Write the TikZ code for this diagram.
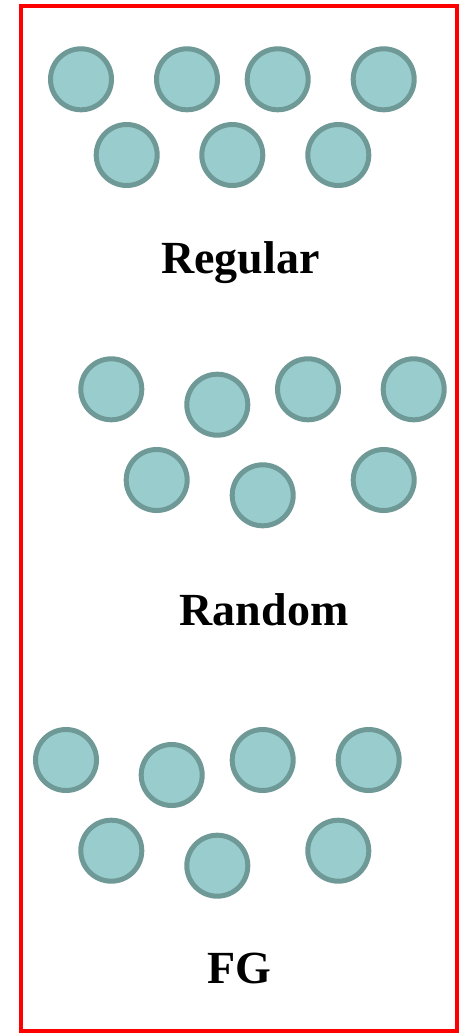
\documentclass[tikz,border=0pt]{standalone}
\usepackage{fontspec}
\setmainfont{Liberation Serif}
\definecolor{ballfill}{RGB}{153,205,205}
\definecolor{balledge}{RGB}{110,153,150}
\definecolor{framered}{RGB}{255,0,0}
\tikzset{
  ball/.style={circle, draw=balledge, fill=ballfill, line width=5pt, minimum size=61pt, inner sep=0pt},
  label/.style={font=\fontsize{46}{48}\selectfont\bfseries, anchor=base, inner sep=0pt},
}
\begin{document}
\begin{tikzpicture}[x=1pt,y=-1pt]
\useasboundingbox (0,0) rectangle (460,1034);
\draw[framered, line width=4pt] (21,6) rectangle (457,1031);
% Regular
\node[ball] (r1) at (81,79.3) {};
\node[ball] (r2) at (187,79.3) {};
\node[ball] (r3) at (277.7,79.3) {};
\node[ball] (r4) at (383.7,79.3) {};
\node[ball] (r5) at (126.7,155) {};
\node[ball] (r6) at (232.3,155) {};
\node[ball] (r7) at (338.3,155) {};
\node[label] (tr) at (240.5,273) {Regular};
% Random
\node[ball] (m1) at (111.3,389.3) {};
\node[ball] (m2) at (217.3,404.7) {};
\node[ball] (m3) at (308,389.3) {};
\node[ball] (m4) at (413.7,389.3) {};
\node[ball] (m5) at (156.7,480) {};
\node[ball] (m6) at (262.7,495.3) {};
\node[ball] (m7) at (383.7,480) {};
\node[label] (tm) at (264,625) {Random};
% FG
\node[ball] (f1) at (66,760) {};
\node[ball] (f2) at (171.7,775) {};
\node[ball] (f3) at (262.7,760) {};
\node[ball] (f4) at (368.7,760) {};
\node[ball] (f5) at (111.3,850.7) {};
\node[ball] (f6) at (217.3,865.7) {};
\node[ball] (f7) at (338.3,850.7) {};
\node[label] (tf) at (239.7,983) {FG};
\end{tikzpicture}
\end{document}
